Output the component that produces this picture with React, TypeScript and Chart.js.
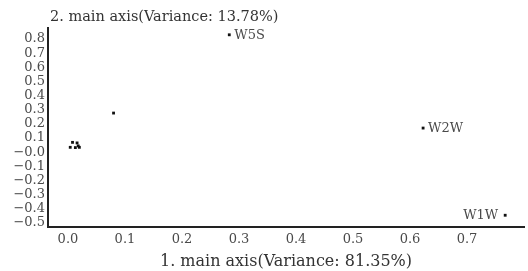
import React, { useEffect, useRef } from "react";
import { Chart, registerables } from "chart.js";

Chart.register(...registerables);

const pointX = [0.283, 0.08, 0.623, 0.767, 0.008, 0.016, 0.004, 0.013, 0.02, 0.018];
const pointY = [0.83, 0.277, 0.171, -0.445, 0.07, 0.066, 0.035, 0.033, 0.035, 0.045];
const pointLabels = ["W5S", "", "W2W", "W1W", "", "", "", "", "", ""];

const xTickValues = [0, 0.1, 0.2, 0.3, 0.4, 0.5, 0.6, 0.7];
const xTickLabels = ["0.0", "0.1", "0.2", "0.3", "0.4", "0.5", "0.6", "0.7"];
const yTickValues = [0.8, 0.7, 0.6, 0.5, 0.4, 0.3, 0.2, 0.1, 0, -0.1, -0.2, -0.3, -0.4, -0.5];
const yTickLabels = ["0.8", "0.7", "0.6", "0.5", "0.4", "0.3", "0.2", "0.1", "\u22120.0", "\u22120.1", "\u22120.2", "\u22120.3", "\u22120.4", "\u22120.5"];

const yTitle = "2. main axis(Variance: 13.78%)";
const xTitle = "1. main axis(Variance: 81.35%)";

const SERIF = "'DejaVu Serif', 'Liberation Serif', serif";

export default function App() {
  const ref = useRef<HTMLCanvasElement | null>(null);
  useEffect(() => {
    if (!ref.current) return;
    const labelPlugin = {
      id: "pointLabels",
      afterDatasetsDraw(chart: any) {
        const ctx = chart.ctx;
        const meta = chart.getDatasetMeta(0);
        ctx.save();
        ctx.font = "13px " + SERIF;
        ctx.fillStyle = "#4a4a4a";
        ctx.textBaseline = "middle";
        meta.data.forEach((el: any, i: number) => {
          const t = pointLabels[i];
          if (!t) return;
          if (el.x > chart.chartArea.right - 50) {
            ctx.textAlign = "right";
            ctx.fillText(t, el.x - 7, el.y);
          } else {
            ctx.textAlign = "left";
            ctx.fillText(t, el.x + 5, el.y + 1);
          }
        });
        ctx.restore();
      },
      afterDraw(chart: any) {
        const ctx = chart.ctx;
        ctx.save();
        ctx.font = "14.5px " + SERIF;
        ctx.fillStyle = "#333";
        ctx.textAlign = "left";
        ctx.textBaseline = "middle";
        ctx.fillText(yTitle, chart.chartArea.left + 2, 17);
        ctx.restore();
      },
    };
    const chart = new Chart(ref.current, {
      type: "scatter",
      data: {
        datasets: [
          {
            data: pointX.map((x, i) => ({ x, y: pointY[i] })),
            pointStyle: "rect",
            pointRadius: 2,
            backgroundColor: "#111",
            borderColor: "#111",
            borderWidth: 0,
          },
        ],
      },
      options: {
        animation: false,
        responsive: false,
        maintainAspectRatio: false,
        layout: { padding: { top: 28, right: 0, left: 0, bottom: 0 } },
        plugins: { legend: { display: false }, tooltip: { enabled: false } },
        scales: {
          x: {
            type: "linear",
            min: -0.035,
            max: 0.8,
            afterBuildTicks: (s: any) => {
              s.ticks = xTickValues.map((v) => ({ value: v }));
            },
            afterFit: (s: any) => {
              s.height = 44;
            },
            grid: { display: false, drawTicks: false },
            border: { display: true, color: "#222", width: 2 },
            ticks: {
              autoSkip: false,
              maxRotation: 0,
              padding: 5,
              color: "#4a4a4a",
              font: { family: SERIF, size: 13 },
              callback: (_v: any, i: number) => xTickLabels[i],
            },
            title: {
              display: true,
              text: xTitle,
              color: "#333",
              font: { family: SERIF, size: 16 },
              padding: { top: 1, bottom: 0 },
            },
          },
          y: {
            type: "linear",
            min: -0.528,
            max: 0.878,
            afterBuildTicks: (s: any) => {
              s.ticks = yTickValues.map((v) => ({ value: v }));
            },
            afterFit: (s: any) => {
              s.width = 48;
            },
            grid: { display: false, drawTicks: false },
            border: { display: true, color: "#222", width: 2 },
            ticks: {
              autoSkip: false,
              padding: 3,
              color: "#4a4a4a",
              font: { family: SERIF, size: 13, lineHeight: 1 },
              callback: (_v: any, i: number) => yTickLabels[i],
            },
          },
        },
      },
      plugins: [labelPlugin],
    });
    return () => chart.destroy();
  }, []);
  return (
    <div style={{ position: "fixed", left: 0, top: 0, width: 528, height: 271, background: "#fff" }}>
      <canvas ref={ref} width={528} height={271} style={{ width: 528, height: 271 }} />
    </div>
  );
}
